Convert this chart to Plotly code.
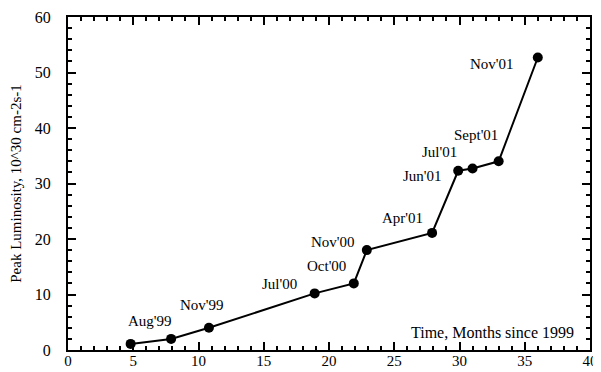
import plotly.graph_objects as go

months = [4.8, 7.9, 10.8, 18.9, 21.9, 22.9, 27.9, 29.9, 31.0, 33.0, 36.0]
luminosity = [1.1, 2.0, 4.0, 10.2, 12.0, 18.0, 21.1, 32.3, 32.7, 34.0, 52.7]

label_texts = ["Aug'99", "Nov'99", "Jul'00", "Oct'00", "Nov'00", "Apr'01",
               "Jun'01", "Jul'01", "Sept'01", "Nov'01"]
label_x = [6.3, 10.3, 16.2, 19.8, 20.3, 25.6, 27.2, 28.5, 31.3, 32.5]
label_y = [5.3, 8.1, 11.9, 15.1, 19.4, 23.8, 31.4, 35.7, 38.7, 51.6]

x_title = "Time, Months since 1999"
y_title = "Peak Luminosity, 10^30 cm-2s-1"

FONT = "Liberation Serif"

fig = go.Figure()
fig.add_trace(go.Scatter(
    x=months, y=luminosity, mode="lines+markers",
    line=dict(color="black", width=2),
    marker=dict(color="black", size=10),
    showlegend=False, hoverinfo="skip",
))

for t, x, y in zip(label_texts, label_x, label_y):
    fig.add_annotation(x=x, y=y, text=t, showarrow=False,
                       font=dict(family=FONT, size=15, color="black"),
                       xanchor="center", yanchor="middle")

fig.add_annotation(x=38.9, y=3.1, text=x_title, showarrow=False,
                   font=dict(family=FONT, size=16, color="black"),
                   xanchor="right", yanchor="middle")

axis_common = dict(
    showgrid=False, zeroline=False, showline=True, linecolor="black",
    linewidth=2, mirror="ticks", ticks="inside", ticklen=8, tickwidth=2,
    tickcolor="black", automargin=False, ticklabeloverflow="allow",
)

fig.update_xaxes(range=[0, 40], dtick=5, tick0=0, ticklabelstandoff=-4,
                 tickfont=dict(family=FONT, size=15, color="black"),
                 minor=dict(dtick=1, ticks="inside", ticklen=4,
                            tickwidth=1.5, tickcolor="black"),
                 **axis_common)
fig.update_yaxes(range=[0, 60], dtick=10, tick0=0, ticklabelstandoff=12,
                 tickfont=dict(family=FONT, size=16, color="black"),
                 minor=dict(dtick=2, ticks="inside", ticklen=4,
                            tickwidth=1.5, tickcolor="black"),
                 title=dict(text=y_title, font=dict(family=FONT, size=15, color="black"),
                            standoff=24),
                 **axis_common)

# The page body adds an 8px offset, so margins are shifted to compensate.
fig.update_layout(
    width=601, height=372,
    margin=dict(l=60, r=19, t=9, b=30),
    plot_bgcolor="white", paper_bgcolor="white",
    font=dict(family=FONT, size=15, color="black"),
)

fig.write_html("out.html")
